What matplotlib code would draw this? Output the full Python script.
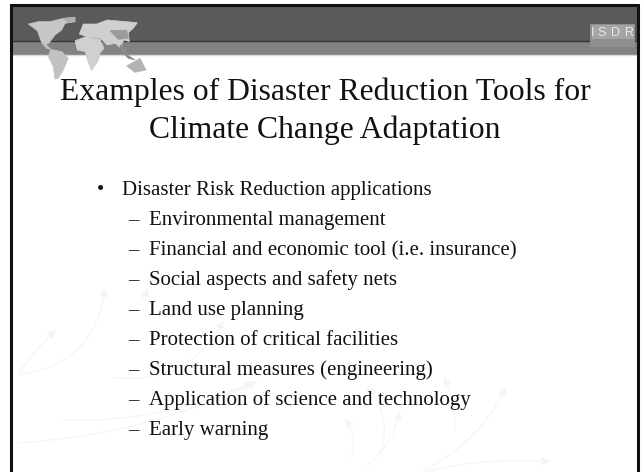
import matplotlib
matplotlib.use('Agg')
import matplotlib.pyplot as plt
from matplotlib.patches import Polygon, Rectangle, FancyArrowPatch

title_lines = ["Examples of Disaster Reduction Tools for", "Climate Change Adaptation"]
title_y = [100, 138]
bullet_text = "Disaster Risk Reduction applications"
bullet_y = 195
sub_items = ["Environmental management",
             "Financial and economic tool (i.e. insurance)",
             "Social aspects and safety nets",
             "Land use planning",
             "Protection of critical facilities",
             "Structural measures (engineering)",
             "Application of science and technology",
             "Early warning"]
sub_y = [225, 255, 285, 315, 345, 375, 405, 435]
logo_letters = ["I", "S", "D", "R"]
logo_x = [593, 602, 615, 629]

north_america = [(25, 42), (55, 35), (90, 35), (110, 30), (130, 25), (165, 22), (165, 35), (135, 40), (125, 60),
                 (105, 75), (88, 98), (78, 104), (92, 118), (80, 115), (65, 98), (52, 62)]
south_america = [(92, 118), (125, 125), (145, 145), (130, 180), (115, 205), (105, 207), (100, 170), (85, 140)]
europe_asia = [(190, 42), (230, 42), (262, 30), (352, 38), (340, 55), (325, 68), (328, 95), (312, 90), (300, 112),
               (285, 100), (262, 105), (240, 85), (200, 80), (178, 72)]
africa = [(165, 92), (198, 80), (240, 88), (252, 115), (240, 128), (236, 150), (215, 182), (202, 150), (196, 125),
          (172, 120)]
se_asia = [(300, 105), (318, 112), (322, 135), (345, 150), (325, 145), (305, 125)]
australia = [(320, 168), (360, 145), (378, 180), (345, 187)]
green = [(130, 25), (165, 22), (165, 35), (145, 38)]
high_ground = [(270, 62), (320, 60), (325, 85), (295, 88)]
land = [north_america, south_america, europe_asia, africa, se_asia, australia, green, high_ground]
land_grey = ['#c6c6c6', '#c2c2c2', '#cfcfcf', '#d0d0d0', '#8a8a8a', '#b4b4b4', '#b0b0b0', '#9c9c9c']

# faint arrows in the background: start, end, curve
swirls = [(17, 375, 58, 328, -0.05), (17, 375, 105, 285, 0.4), (17, 443, 260, 380, 0.1),
          (60, 420, 255, 381, 0.12), (110, 377, 225, 318, 0.35), (140, 300, 148, 285, 0.2),
          (420, 472, 507, 385, 0.18), (423, 472, 553, 462, -0.08), (365, 467, 400, 408, 0.2),
          (455, 433, 443, 373, 0.12), (350, 460, 343, 417, 0.3), (380, 455, 365, 385, 0.3)]

fig = plt.figure(figsize=(6.43, 4.72), dpi=100)
ax = fig.add_axes([0, 0, 1, 1])
ax.set_xlim(0, 643)
ax.set_ylim(472, 0)
ax.axis('off')

ax.add_patch(Rectangle((11, 5), 627, 36, fc='#5a5a5a', ec='none', zorder=1))
ax.add_patch(Rectangle((11, 41), 627, 13.5, fc='#828282', ec='none', zorder=1))
ax.plot([11, 638], [40.5, 40.5], color='#383838', lw=1, zorder=2)
ax.plot([11, 638], [55, 55], color='#d8d8d8', lw=1, zorder=2)

for x0, y0, x1, y1, rad in swirls:
    ax.add_patch(FancyArrowPatch((x0, y0), (x1, y1), connectionstyle='arc3,rad=%s' % rad,
                                 arrowstyle='-|>', mutation_scale=13, lw=0.9, color='#f5f5f5', zorder=1))

for pts, c in zip(land, land_grey):
    pixel_pts = [(20 + x / 3, 10 + y / 3) for x, y in pts]
    ax.add_patch(Polygon(pixel_pts, closed=True, fc=c, ec=c, lw=0.5, zorder=3))

# logo
ax.add_patch(Rectangle((590, 24), 45, 23, fc='#8e8e8e', ec='none', zorder=3))
ax.add_patch(Rectangle((592, 25), 42, 14, fc='#a4a4a4', ec='none', zorder=3))
for letter, x in zip(logo_letters, logo_x):
    ax.text(x, 33, letter, family='Liberation Sans', fontsize=9, color='#e8e8e8',
            ha='center', va='center', zorder=4)

# frame
ax.plot([11, 11, 638, 638], [472, 5, 5, 472], color='#111111', lw=2.2, zorder=5,
        solid_joinstyle='miter')

for t, y in zip(title_lines, title_y):
    ax.text(325, y, t, family='Liberation Serif', fontsize=22.8, color='#111111',
            ha='center', va='baseline', zorder=6)

ax.text(97, bullet_y, "•", family='Liberation Serif', fontsize=15, color='#111111', zorder=6)
ax.text(122, bullet_y, bullet_text, family='Liberation Serif', fontsize=15, color='#111111', zorder=6)
for t, y in zip(sub_items, sub_y):
    ax.text(128, y, "–", family='Liberation Serif', fontsize=15, color='#111111', zorder=6)
    ax.text(149, y, t, family='Liberation Serif', fontsize=15, color='#111111', zorder=6)

fig.savefig('out.png', dpi=100)
